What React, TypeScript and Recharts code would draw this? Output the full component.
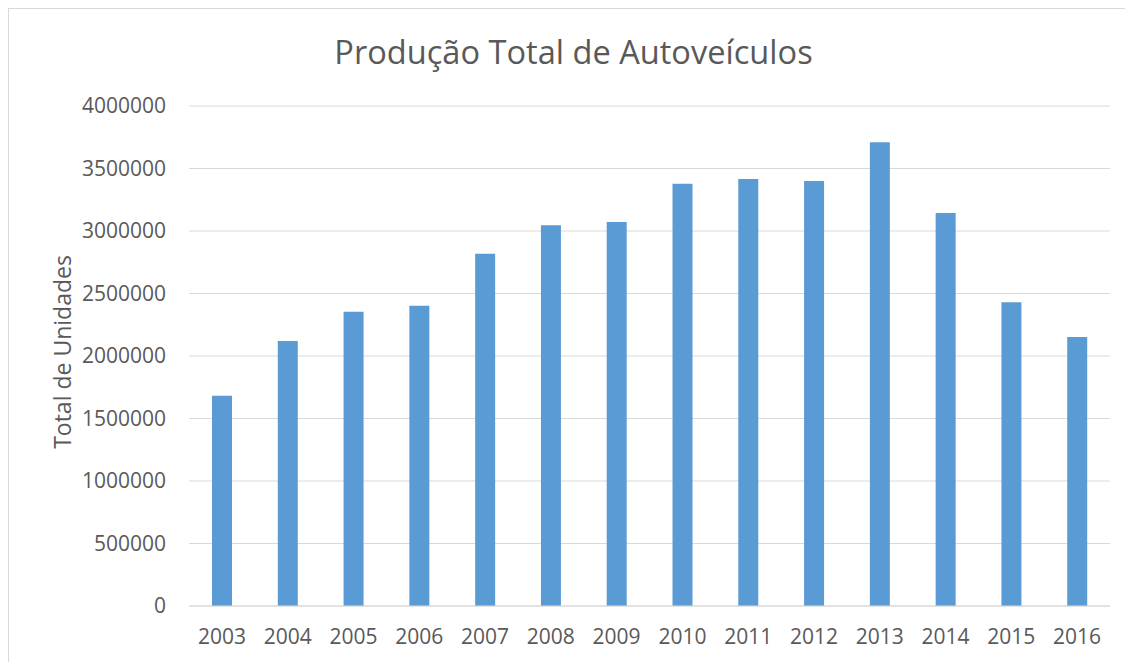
import { BarChart, Bar, XAxis, YAxis, CartesianGrid } from "recharts";

const years = ["2003", "2004", "2005", "2006", "2007", "2008", "2009", "2010", "2011", "2012", "2013", "2014", "2015", "2016"];
const units = [1683000, 2120000, 2355000, 2403000, 2819000, 3046000, 3072000, 3379000, 3416000, 3400000, 3710000, 3144000, 2430000, 2152000];
const yTicks = [0, 500000, 1000000, 1500000, 2000000, 2500000, 3000000, 3500000, 4000000];

const data = years.map((year, i) => ({ year, total: units[i] }));

const textColor = "#595959";
const font = "'Open Sans', sans-serif";

export default function App() {
    return (
        <div
            style={{
                position: "relative",
                width: 1126,
                height: 655,
                marginLeft: -1,
                marginTop: -1,
                borderTop: "2px solid #d9d9d9",
                borderLeft: "2px solid #d9d9d9",
                background: "#fff",
                fontFamily: font
            }}
        >
            <div
                style={{
                    position: "absolute",
                    top: 23,
                    left: -2,
                    width: 1133,
                    textAlign: "center",
                    fontSize: 32.6,
                    lineHeight: "40px",
                    fontWeight: 400,
                    color: textColor
                }}
            >
                Produção Total de Autoveículos
            </div>
            <BarChart
                width={1124}
                height={653}
                data={data}
                margin={{ top: 97, right: 23, left: 0, bottom: 0 }}
                barSize={20}
            >
                <CartesianGrid vertical={false} stroke="#d9d9d9" />
                <XAxis
                    dataKey="year"
                    height={56}
                    axisLine={{ stroke: "#d9d9d9" }}
                    tickLine={false}
                    tickSize={0}
                    tickMargin={23}
                    tick={{ fontSize: 21, fill: textColor, fontFamily: font }}
                />
                <YAxis
                    width={180}
                    domain={[0, 4000000]}
                    ticks={yTicks}
                    interval={0}
                    axisLine={false}
                    tickLine={false}
                    tickSize={0}
                    tickMargin={23}
                    tick={{ fontSize: 21, fill: textColor, fontFamily: font }}
                    label={{
                        value: "Total de Unidades",
                        angle: -90,
                        position: "center",
                        dx: -36,
                        dy: -4,
                        fontSize: 23,
                        fill: textColor,
                        fontFamily: font
                    }}
                />
                <Bar dataKey="total" fill="#5b9bd5" isAnimationActive={false} />
            </BarChart>
        </div>
    );
}
